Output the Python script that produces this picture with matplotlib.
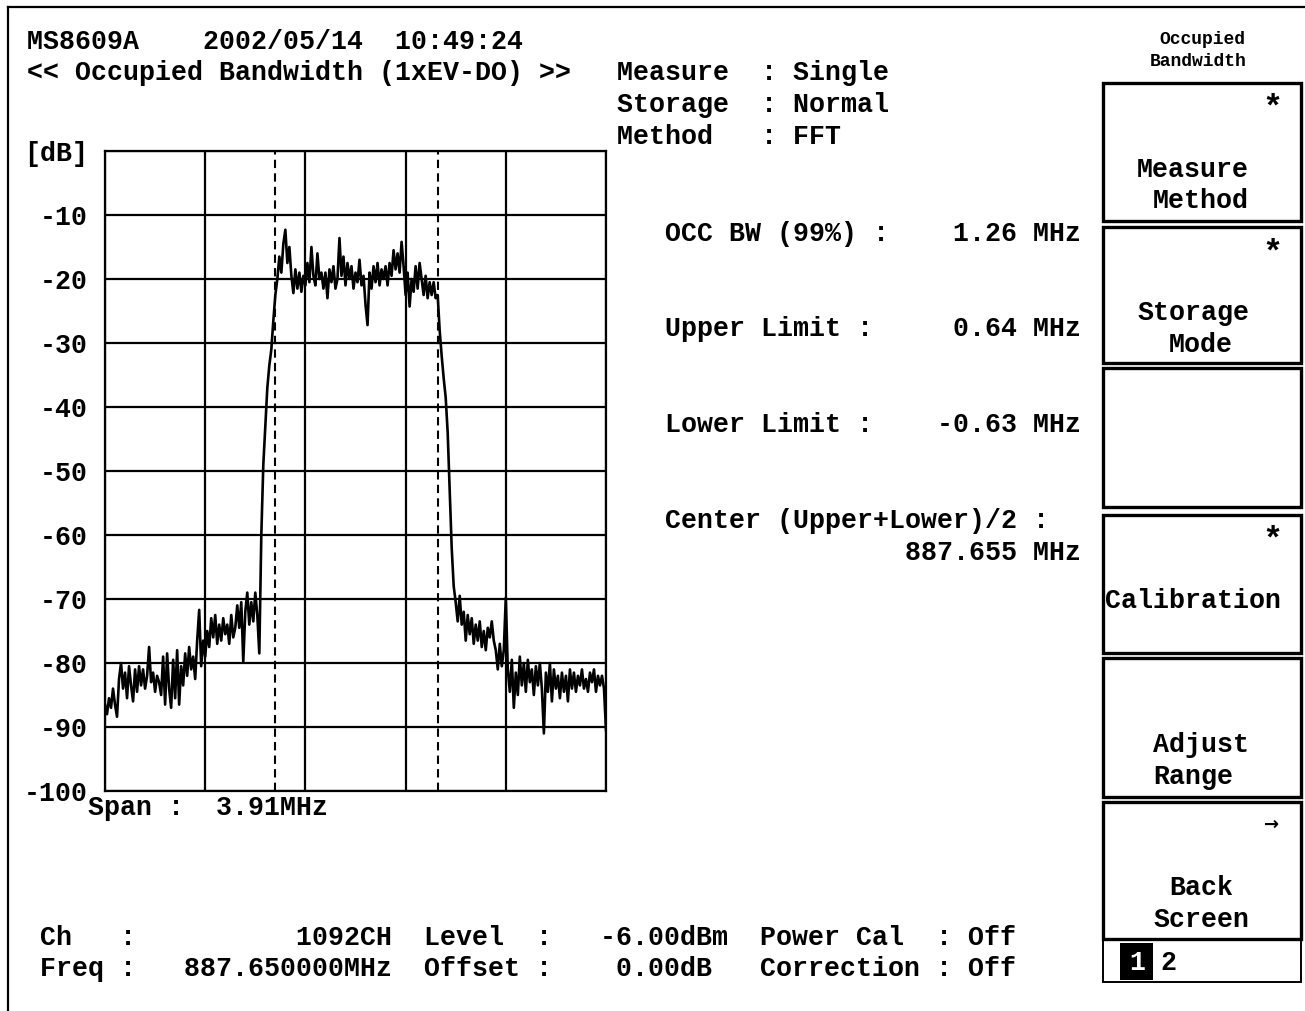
# -*- coding: utf-8 -*-
"""
MS8609A occupied bandwidth screen (1xEV-DO)
"""

import numpy as np
import matplotlib.pyplot as plt
plt.switch_backend('agg')
from matplotlib.patches import Rectangle
from matplotlib.lines import Line2D

#################################################################
# Measured trace, read off the screen (dB, 251 points across span)
span_mhz=3.91
trace_db=[-86.5,-88.0,-85.5,-87.0,-84.0,-86.5,-88.4,-82.5,
          -80.0,-84.0,-81.5,-85.5,-80.5,-83.5,-86.0,-81.0,-84.5,
          -80.5,-83.5,-81.0,-84.0,-82.0,-77.5,-83.0,-81.5,-84.5,-82.0,-83.0,-85.0,
          -79.0,-86.5,-78.5,-84.0,-87.0,-79.5,-85.5,-78.0,-86.5,-80.5,-83.5,
          -78.5,-82.0,-77.5,-81.0,-79.0,-82.5,-76.5,-71.7,-80.5,-76.5,-79.0,
          -75.0,-77.5,-73.0,-76.0,-72.5,-77.0,-74.0,-76.5,-73.0,-75.5,-74.0,-77.0,-72.5,-76.0,-74.5,
          -71.0,-74.5,-70.5,-79.8,-72.0,-69.0,-74.0,-70.5,-73.5,-69.0,-72.5,-78.5,
          -60.0,-49.0,-43.0,-37.0,-33.5,-31.0,-26.5,-22.5,-20.0,
          -16.5,-19.0,-14.5,-12.3,-17.5,-15.0,-19.5,-22.2,-18.5,-21.5,
          -19.0,-22.0,-19.5,-21.0,-17.5,-20.5,-15.0,-19.5,-21.0,-16.0,
          -20.0,-19.0,-21.5,-19.0,-23.0,-18.5,-20.5,-18.0,-21.5,-20.0,
          -13.6,-19.5,-16.5,-21.0,-17.5,-20.0,-18.0,-21.5,-19.0,-20.5,
          -17.0,-21.0,-19.5,-24.0,-27.2,-19.0,-21.5,-18.0,-20.5,-17.5,
          -21.0,-18.5,-20.0,-18.0,-21.0,-17.5,-19.5,-15.5,-18.5,-16.0,
          -19.0,-14.2,-18.0,-22.5,-19.0,-24.3,-20.0,-22.0,-18.0,-21.5,
          -17.5,-20.0,-22.5,-19.5,-23.0,-20.5,-22.5,-20.5,-23.0,
          -22.5,-28.0,-32.0,-35.5,-38.5,-44.0,-53.0,-62.0,-68.0,
          -70.5,-73.5,-69.5,-74.0,-72.0,-76.5,-72.5,-75.5,-73.0,-77.0,
          -74.0,-76.5,-73.5,-77.5,-75.0,-78.0,-74.5,-76.0,-73.5,-76.5,
          -78.0,-81.0,-77.0,-80.5,-78.0,-69.8,-81.0,-84.5,-79.5,-87.0,
          -81.5,-85.0,-79.0,-83.5,-80.0,-84.5,-79.5,-83.0,-81.0,-85.0,
          -80.5,-83.5,-80.0,-84.0,-91.0,-81.5,-84.5,-80.0,-86.0,-81.0,
          -84.0,-82.0,-85.5,-81.5,-84.5,-82.0,-86.0,-81.0,-84.0,-81.5,
          -84.5,-82.0,-83.5,-81.0,-84.0,-82.5,-84.5,-81.5,-83.0,-81.0,
          -84.5,-82.0,-83.5,-82.0,-84.0,-90.5]

# Occupied bandwidth limits (MHz, relative to centre)
lower_limit=-0.63
upper_limit=0.64

# dB scale
y_ticks=[0,-10,-20,-30,-40,-50,-60,-70,-80,-90,-100]
y_labels=['[dB]','-10','-20','-30','-40','-50','-60','-70','-80','-90','-100']
#################################################################

W,H=1305.,1011.
mono='Liberation Mono'
fs=19.2   # gives 16 px per character

def fx(x):
    return x/W
def fy(y):
    return 1-y/H

fig=plt.figure(figsize=(W/100,H/100),dpi=100)
fig.patch.set_facecolor('white')

def put(x,y,s,size=fs,ha='left',color='black',family=mono):
    fig.text(fx(x),fy(y),s,ha=ha,va='center',fontsize=size,
             family=family,weight='bold',color=color)

# screen frame (left and top only)
fig.add_artist(Line2D([fx(8),fx(8)],[fy(7),fy(1011)],lw=1.6,color='black'))
fig.add_artist(Line2D([fx(8),fx(1305)],[fy(7),fy(7)],lw=1.6,color='black'))

#################################################################
# Spectrum plot
axe=fig.add_axes([fx(105),fy(791),501/W,640/H])
freq=np.linspace(-span_mhz/2,span_mhz/2,len(trace_db))
axe.plot(freq,trace_db,color='black',linewidth=1.9)

axe.set_xlim(-span_mhz/2,span_mhz/2)
axe.set_ylim(-100,0)
axe.set_xticks(np.linspace(-span_mhz/2,span_mhz/2,6))
axe.set_xticklabels([])
axe.set_yticks(y_ticks)
axe.set_yticklabels(y_labels,family=mono,fontsize=fs,weight='bold')
axe.tick_params(length=0,pad=12.2)
axe.grid(True,color='black',linewidth=1.6)
for axis in ['top','bottom','left','right']:
    axe.spines[axis].set_linewidth(1.6)

for lim in [lower_limit,upper_limit]:
    axe.axvline(lim,color='black',linewidth=1.5,linestyle=(0,(4,2.5)))
#################################################################

# header text
put(27,42,'MS8609A    2002/05/14  10:49:24')
put(27,73,'<< Occupied Bandwidth (1xEV-DO) >>')
put(617,73,'Measure  : Single')
put(617,105,'Storage  : Normal')
put(617,137,'Method   : FFT')
put(88,808,'Span :  3.91MHz')

# results
put(665,234,'OCC BW (99%) :    1.26 MHz')
put(665,329,'Upper Limit :     0.64 MHz')
put(665,425,'Lower Limit :    -0.63 MHz')
put(665,521,'Center (Upper+Lower)/2 :')
put(905,553,'887.655 MHz')

# bottom status
put(40,938,'Ch   :          1092CH  Level  :   -6.00dBm  Power Cal  : Off')
put(40,969,'Freq :   887.650000MHz  Offset :    0.00dB   Correction : Off')

#################################################################
# Soft key panel
put(1202,40,'Occupied',size=13,ha='center')
put(1198,62,'Bandwidth',size=13,ha='center')

boxes=[(83,221),(227,363),(368,507),(515,653),(658,797),(802,939)]
for top,bot in boxes:
    fig.add_artist(Rectangle((fx(1103),fy(bot)),198/W,(bot-top)/H,
                             fill=False,lw=2.4,ec='black'))

put(1272,108,'*',size=24,ha='center')
put(1272,253,'*',size=24,ha='center')
put(1272,540,'*',size=24,ha='center')
put(1272,825,'\u2192',size=13,ha='center',family='DejaVu Sans')

put(1137,170,'Measure')
put(1153,201,'Method')
put(1137,313,'Storage')
put(1169,345,'Mode')
put(1105,601,'Calibration')
put(1153,745,'Adjust')
put(1153,777,'Range')
put(1169,888,'Back')
put(1153,920,'Screen')

# page indicator
fig.add_artist(Rectangle((fx(1103),fy(982)),198/W,43/H,fill=False,lw=1.4,ec='black'))
fig.add_artist(Rectangle((fx(1120),fy(980)),33/W,37/H,fill=True,lw=0,fc='black'))
put(1137,963,'1',ha='center',color='white')
put(1160,963,'2')

plt.savefig('out.png',dpi=100)
